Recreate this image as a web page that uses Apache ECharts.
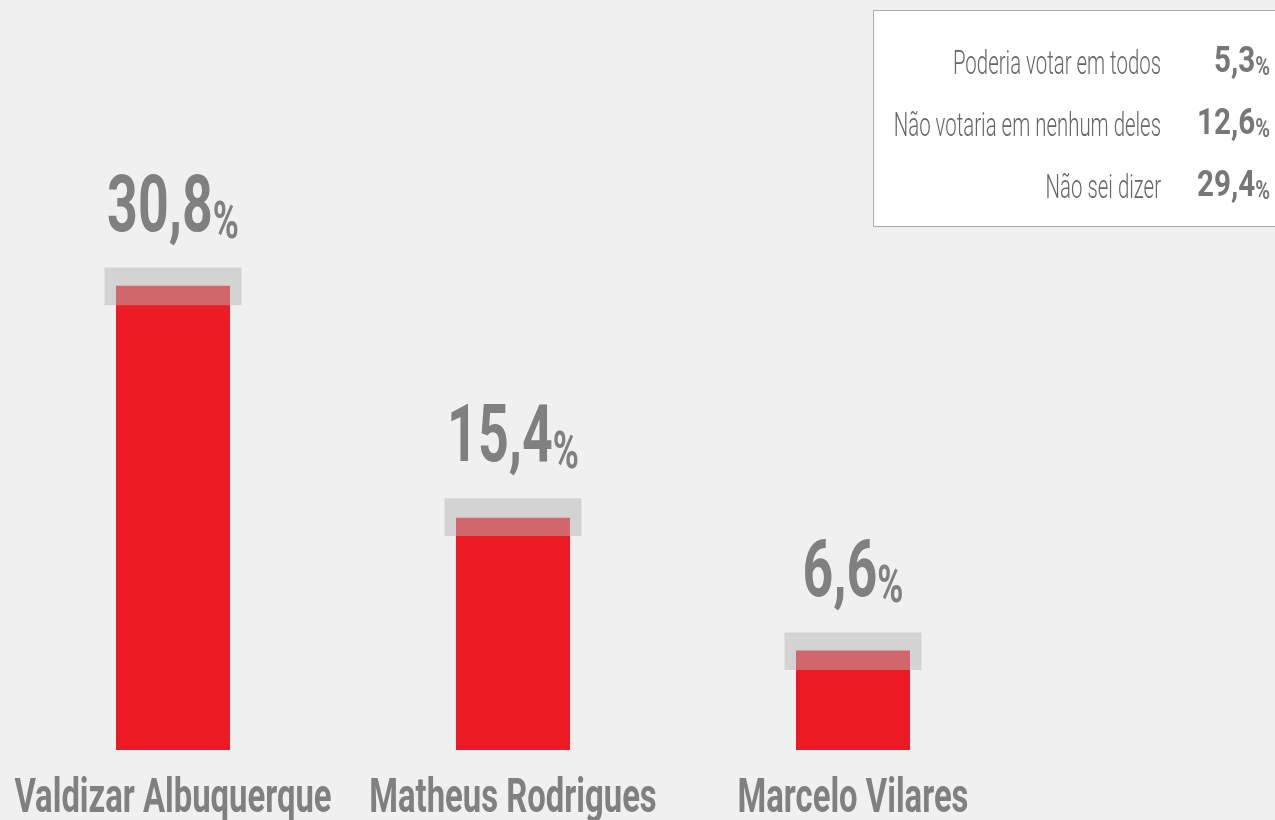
<!DOCTYPE html>
<html>
<head>
<meta charset="utf-8">
<script src="https://cdn.jsdelivr.net/npm/echarts@6/dist/echarts.min.js"></script>
<style>
  html, body { margin: 0; padding: 0; background: #f0f0f0; }
  #chart { width: 1275px; height: 820px; }
</style>
</head>
<body>
<div id="chart"></div>
<script>
// intenção de voto
var candidates = ['Valdizar Albuquerque', 'Matheus Rodrigues', 'Marcelo Vilares'];
var votes = [30.8, 15.4, 6.6];
// margem de erro (faixa cinza)
var marginLow = [29.5, 14.2, 5.3];
var marginHigh = [32.0, 16.7, 7.8];
// quadro lateral
var otherLabels = ['Poderia votar em todos', 'Não votaria em nenhum deles', 'Não sei dizer'];
var otherValues = [5.3, 12.6, 29.4];

var grey = '#808080';
var font = 'Roboto, "Liberation Sans", sans-serif';

function fmt(v) {
    return v.toFixed(1).replace('.', ',');
}

var myChart = echarts.init(document.getElementById('chart'));

var bandData = candidates.map(function (c, i) { return [i, marginLow[i], marginHigh[i]]; });
var labelData = candidates.map(function (c, i) { return [i, votes[i], marginHigh[i]]; });
var nameData = candidates.map(function (c, i) { return [i, 0]; });

// quadro com os outros números
var box = [{
    type: 'rect',
    shape: { x: 873.5, y: 10.5, width: 420, height: 216 },
    style: { fill: '#ffffff', stroke: '#aaaaaa', lineWidth: 1 }
}];
otherLabels.forEach(function (lbl, i) {
    var y = 82 + i * 62;
    box.push({
        type: 'text', x: 1161, y: y, scaleX: 0.6,
        style: {
            text: lbl, align: 'right', verticalAlign: 'bottom',
            font: '300 34px ' + font, fill: '#666666'
        }
    });
    box.push({
        type: 'text', x: 1270, y: y - 1, scaleX: 0.8,
        style: {
            text: '{n|' + fmt(otherValues[i]) + '}{p|%}',
            align: 'right', verticalAlign: 'bottom',
            rich: {
                n: { fontFamily: font, fontWeight: 'bold', fontSize: 37, lineHeight: 37, fill: '#777777', verticalAlign: 'bottom' },
                p: { fontFamily: font, fontWeight: 'bold', fontSize: 25, lineHeight: 30, fill: '#777777', verticalAlign: 'bottom' }
            }
        }
    });
});

option = {
    backgroundColor: '#f0f0f0',
    animation: false,
    grid: { left: 3, right: 252, top: 147, bottom: 70 },
    xAxis: {
        type: 'category',
        data: candidates,
        axisLine: { show: false },
        axisTick: { show: false },
        axisLabel: { show: false }
    },
    yAxis: {
        type: 'value', min: 0, max: 40, show: false,
        splitLine: { show: false }
    },
    graphic: box,
    series: [
        {
            type: 'bar',
            data: votes,
            barWidth: 114,
            itemStyle: { color: '#ed1c24' }
        },
        {
            type: 'custom',
            z: 3,
            data: bandData,
            renderItem: function (params, api) {
                var top = api.coord([api.value(0), api.value(2)]);
                var bottom = api.coord([api.value(0), api.value(1)]);
                return {
                    type: 'rect',
                    shape: { x: top[0] - 68.5, y: top[1], width: 137, height: bottom[1] - top[1] },
                    style: { fill: 'rgba(181,181,181,0.49)' }
                };
            }
        },
        {
            type: 'custom',
            z: 4,
            data: labelData,
            renderItem: function (params, api) {
                var p = api.coord([api.value(0), api.value(2)]);
                return {
                    type: 'text', x: p[0], y: p[1] - 17, scaleX: 0.68,
                    style: {
                        text: '{n|' + fmt(api.value(1)) + '}{p|%}',
                        align: 'center', verticalAlign: 'bottom',
                        rich: {
                            n: { fontFamily: font, fontWeight: 'bold', fontSize: 79, lineHeight: 79, fill: grey, verticalAlign: 'bottom' },
                            p: { fontFamily: font, fontWeight: 'bold', fontSize: 52, lineHeight: 63, fill: grey, verticalAlign: 'bottom' }
                        }
                    }
                };
            }
        },
        {
            type: 'custom',
            z: 4,
            data: nameData,
            renderItem: function (params, api) {
                var p = api.coord([api.value(0), 0]);
                return {
                    type: 'text', x: p[0], y: p[1] + 50, scaleX: 0.67,
                    style: {
                        text: candidates[params.dataIndex],
                        align: 'center', verticalAlign: 'middle',
                        font: 'bold 49px ' + font, fill: grey
                    }
                };
            }
        }
    ]
};

myChart.setOption(option);
</script>
</body>
</html>
